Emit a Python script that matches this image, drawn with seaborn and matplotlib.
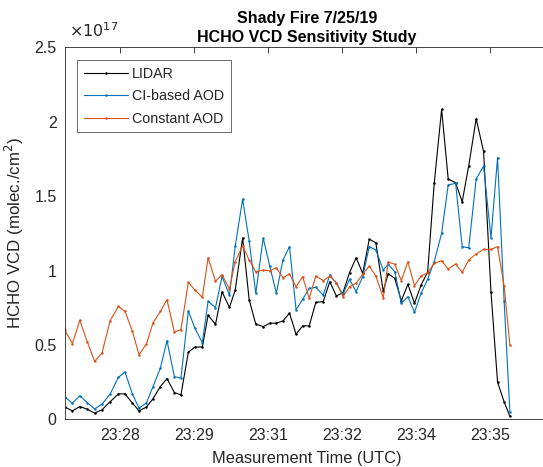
import pandas as pd
import seaborn as sns
import matplotlib.pyplot as plt
import matplotlib.dates as mdates

# sample times (UTC)
times = ['23:26:53', '23:27:02', '23:27:11', '23:27:20', '23:27:29', '23:27:38', '23:27:48', '23:27:58',
         '23:28:06', '23:28:15', '23:28:23', '23:28:32', '23:28:40', '23:28:49', '23:28:57', '23:29:06',
         '23:29:14', '23:29:23', '23:29:31', '23:29:40', '23:29:47', '23:29:56', '23:30:04', '23:30:13',
         '23:30:20', '23:30:29', '23:30:37', '23:30:45', '23:30:54', '23:31:02', '23:31:10', '23:31:18',
         '23:31:26', '23:31:34', '23:31:42', '23:31:50', '23:31:58', '23:32:07', '23:32:15', '23:32:23',
         '23:32:31', '23:32:39', '23:32:47', '23:32:55', '23:33:03', '23:33:11', '23:33:20', '23:33:26',
         '23:33:34', '23:33:42', '23:33:50', '23:33:58', '23:34:06', '23:34:14', '23:34:22', '23:34:31',
         '23:34:39', '23:34:48', '23:34:56', '23:35:04', '23:35:13', '23:35:22', '23:35:31', '23:35:39',
         '23:35:47', '23:35:54']

# HCHO VCD in units of 1e17 molec/cm2
lidar = [0.082, 0.057, 0.086, 0.068, 0.042, 0.064, 0.119, 0.171, 0.171, 0.109, 0.057, 0.082,
         0.138, 0.220, 0.274, 0.180, 0.164, 0.451, 0.486, 0.486, 0.699, 0.639, 0.856, 0.752,
         0.869, 1.220, 0.802, 0.640, 0.623, 0.646, 0.646, 0.661, 0.713, 0.572, 0.628, 0.628,
         0.786, 0.791, 0.925, 0.829, 0.851, 0.985, 1.086, 0.981, 1.210, 1.187, 0.860, 0.979,
         0.947, 0.797, 0.907, 0.780, 0.902, 0.990, 1.586, 2.083, 1.615, 1.590, 1.462, 1.705,
         2.020, 1.800, 0.858, 0.250, 0.118, 0.020]
ci_aod = [0.149, 0.109, 0.158, 0.113, 0.070, 0.102, 0.171, 0.283, 0.317, 0.169, 0.075, 0.109,
          0.220, 0.344, 0.529, 0.287, 0.276, 0.728, 0.612, 0.515, 0.793, 0.751, 0.960, 0.834,
          1.164, 1.480, 1.197, 0.847, 1.218, 1.030, 0.847, 1.070, 1.160, 0.735, 0.806, 0.880,
          0.887, 0.835, 0.970, 0.914, 0.840, 0.941, 0.858, 0.959, 1.160, 1.138, 1.003, 1.042,
          0.992, 0.780, 0.824, 0.719, 0.847, 0.941, 1.060, 1.250, 1.575, 1.586, 1.160, 1.153,
          1.615, 1.702, 1.220, 1.758, 0.797, 0.051]
const_aod = [0.597, 0.509, 0.665, 0.522, 0.390, 0.446, 0.664, 0.759, 0.725, 0.591, 0.435, 0.505,
             0.648, 0.725, 0.804, 0.587, 0.602, 0.920, 0.869, 0.820, 1.085, 0.928, 0.972, 0.875,
             1.060, 1.165, 1.070, 0.992, 1.003, 0.997, 1.019, 0.952, 0.977, 0.891, 0.959, 0.813,
             0.963, 0.932, 0.963, 0.918, 0.825, 0.891, 0.914, 0.974, 1.030, 0.963, 0.817, 1.057,
             1.042, 0.932, 1.059, 0.898, 0.963, 0.985, 1.048, 1.066, 1.010, 1.044, 0.988, 1.071,
             1.111, 1.142, 1.142, 1.160, 0.898, 0.499]

t = pd.to_datetime(['2019-07-25 ' + s for s in times])
df = pd.DataFrame({'time': t, 'LIDAR': lidar, 'CI-based AOD': ci_aod, 'Constant AOD': const_aod})

sns.set_theme(style='white')
plt.rcParams['font.family'] = ['Liberation Sans', 'DejaVu Sans']

fig = plt.figure(figsize=(5.43, 4.67), dpi=100)
# axes box runs past the right edge of the picture, like the cropped original
ax = fig.add_axes([0.1197, 0.1021, 0.892, 0.7966])

colors = {'LIDAR': '#000000', 'CI-based AOD': '#0072BD', 'Constant AOD': '#D95319'}
for name in ['LIDAR', 'CI-based AOD', 'Constant AOD']:
    sns.lineplot(data=df, x='time', y=name, ax=ax, color=colors[name], linewidth=0.8,
                 marker='o', markersize=1.8, markeredgewidth=0, label=name, sort=False)

ax.set_xlim(pd.Timestamp('2019-07-25 23:26:53'), pd.Timestamp('2019-07-25 23:36:42'))
ax.set_ylim(0, 2.5)
ax.set_yticks([0, 0.5, 1, 1.5, 2, 2.5])
ax.set_yticklabels(['0', '0.5', '1', '1.5', '2', '2.5'])
ax.set_xticks(pd.date_range('2019-07-25 23:28:00', periods=6, freq='90s'))
ax.xaxis.set_major_formatter(mdates.DateFormatter('%H:%M'))

ax.tick_params(direction='in', length=4, width=0.6, top=True, right=True,
               labelsize=11.5, colors='#262626', pad=6)
for s in ax.spines.values():
    s.set_color('#262626')
    s.set_linewidth(0.6)

ax.set_xlabel('Measurement Time (UTC)', fontsize=11.8, color='#262626', labelpad=6)
ax.set_ylabel('HCHO VCD (molec./cm$^2$)', fontsize=12.2, color='#262626', labelpad=6)
ax.set_title('Shady Fire 7/25/19\nHCHO VCD Sensitivity Study', fontsize=11.5,
             fontweight='bold', color='#000000', pad=4, linespacing=1.3)
fig.text(0.127, 0.915, r'$\times10^{17}$', fontsize=11.5, color='#262626', ha='left', va='bottom')

leg = ax.legend(loc='upper left', bbox_to_anchor=(0.025, 0.965), fontsize=10.3, frameon=True,
                fancybox=False, edgecolor='#262626', handlelength=3.1, handletextpad=0.3,
                borderpad=0.45, labelspacing=0.6, borderaxespad=0)
leg.get_frame().set_linewidth(0.6)

plt.savefig('out.png', dpi=100)
